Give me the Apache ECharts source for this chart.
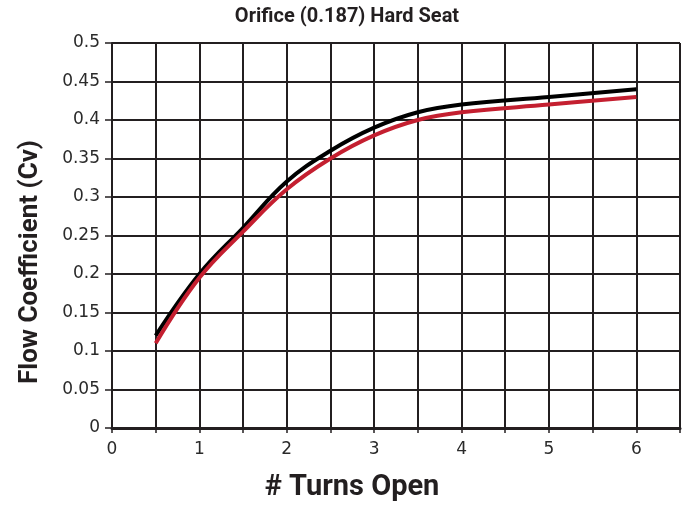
<!DOCTYPE html>
<html>
<head>
<meta charset="utf-8">
<script src="https://cdn.jsdelivr.net/npm/echarts@6/dist/echarts.min.js"></script>
<style>
  html, body { margin: 0; padding: 0; background: #fff; }
  #chart { width: 683px; height: 506px; }
</style>
</head>
<body>
<div id="chart"></div>
<script>
// turns open (x) and flow coefficient values for the two curves
const turns = [0.5, 1, 1.5, 2, 2.5, 3, 3.5, 4, 5, 6];
const blackCv = [0.12, 0.2, 0.26, 0.32, 0.36, 0.39, 0.41, 0.42, 0.43, 0.44];
const redCv = [0.11, 0.195, 0.255, 0.31, 0.35, 0.38, 0.40, 0.41, 0.42, 0.43];

const ink = '#231f20';
const boldFont = {
    fontFamily: 'Roboto',
    fontWeight: 'bold',
    fill: ink
};

function pairs(xs, ys) {
    return xs.map((x, i) => [x, ys[i]]);
}

const chart = echarts.init(document.getElementById('chart'));

chart.setOption({
    animation: false,
    title: {
        text: 'Orifice (0.187) Hard Seat',
        left: 342,
        textAlign: 'center',
        top: 2,
        textStyle: {
            fontFamily: 'Roboto',
            fontWeight: 'bold',
            fontSize: 20,
            color: ink
        }
    },
    // axis names placed by hand, they are not centred on the plot in the original
    graphic: [
        {
            type: 'text',
            x: 30,
            y: 262,
            rotation: Math.PI / 2,
            style: Object.assign({
                text: 'Flow Coefficient (Cv)',
                fontSize: 26,
                align: 'center',
                verticalAlign: 'middle'
            }, boldFont)
        },
        {
            type: 'text',
            x: 352,
            y: 488,
            style: Object.assign({
                text: '# Turns Open',
                fontSize: 29,
                align: 'center',
                verticalAlign: 'middle'
            }, boldFont)
        }
    ],
    grid: {
        left: 112,
        right: 3,
        top: 43,
        bottom: 78
    },
    xAxis: {
        type: 'value',
        min: 0,
        max: 6.5,
        interval: 0.5,
        axisLine: { lineStyle: { color: ink, width: 3 } },
        axisTick: { show: true, length: 5, lineStyle: { color: ink, width: 1.5 } },
        axisLabel: {
            color: '#2a2a2a',
            fontFamily: 'DejaVu Sans',
            fontSize: 17,
            margin: 13,
            formatter: v => (Number.isInteger(v) ? String(v) : '')
        },
        splitLine: { show: true, lineStyle: { color: ink, width: 2 } }
    },
    yAxis: {
        type: 'value',
        min: 0,
        max: 0.5,
        interval: 0.05,
        axisLine: { show: true, lineStyle: { color: ink, width: 2 } },
        axisTick: { show: true, length: 7, lineStyle: { color: ink, width: 1.5 } },
        axisLabel: {
            color: '#2a2a2a',
            fontFamily: 'DejaVu Sans',
            fontSize: 17,
            margin: 12,
            formatter: v => String(Math.round(v * 100) / 100)
        },
        splitLine: { show: true, lineStyle: { color: ink, width: 2 } }
    },
    series: [
        {
            type: 'line',
            data: pairs(turns, blackCv),
            smooth: 0.4,
            showSymbol: false,
            lineStyle: { color: '#000', width: 4 },
            z: 3
        },
        {
            type: 'line',
            data: pairs(turns, redCv),
            smooth: 0.4,
            showSymbol: false,
            lineStyle: { color: '#c41f30', width: 4 },
            z: 4
        }
    ]
});
</script>
</body>
</html>
